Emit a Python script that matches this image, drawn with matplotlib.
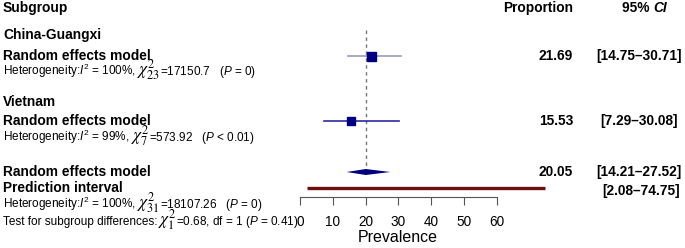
import matplotlib
matplotlib.use("Agg")
import matplotlib.pyplot as plt
from matplotlib.patches import Polygon

plt.rcParams['font.family'] = ['Liberation Sans', 'DejaVu Sans']
plt.rcParams['mathtext.fontset'] = 'custom'
plt.rcParams['mathtext.rm'] = 'Liberation Sans'
plt.rcParams['mathtext.it'] = 'Liberation Sans:italic'
plt.rcParams['mathtext.bf'] = 'Liberation Sans:bold'

# data
groups = ["China-Guangxi", "Vietnam"]
est = [21.69, 15.53]
lo = [14.75, 7.29]
hi = [30.71, 30.08]
sq_size = [9, 8]
overall = 20.05
overall_lo, overall_hi = 14.21, 27.52
pred_lo, pred_hi = 2.08, 74.75
ticks = [0, 10, 20, 30, 40, 50, 60]

# row positions (pixels from top)
y_group = [35, 102]
y_model = [56, 121]
y_het = [72, 138]
y_overall = 172
y_pred = 188

fig = plt.figure(figsize=(6.85, 2.48), dpi=100)
ax = fig.add_axes([0, 0, 1, 1])
px = 3.28  # pixels per unit
ax.set_xlim(-300 / px, (685 - 300) / px)
ax.set_ylim(248, 0)

for s in ['top', 'right', 'left']:
    ax.spines[s].set_visible(False)
ax.spines['bottom'].set_position(('data', 197))
ax.spines['bottom'].set_bounds(ticks[0], ticks[-1])
ax.spines['bottom'].set_color('#555555')
ax.set_yticks([])
ax.set_xticks(ticks)
ax.tick_params(axis='x', direction='out', length=6, color='#555555', pad=7, labelsize=9.8)
ax.set_xlabel("Prevalence", fontsize=11.5, va='center')
ax.xaxis.set_label_coords(398 / 685, 1 - 238 / 248)

# reference line
ax.plot([overall, overall], [30, 168], color='#777777', lw=1, ls=(0, (2.5, 2.5)))

# subgroups
line_cols = ['#9a9ac4', '#2b2ba0']
for i in range(len(groups)):
    ax.plot([lo[i], hi[i]], [y_model[i], y_model[i]], color=line_cols[i], lw=1.2)
    ax.plot(est[i], y_model[i], marker='s', ms=sq_size[i] * 0.72, color='#000080',
            mec='#000080')

# overall diamond
ax.add_patch(Polygon([[overall_lo, y_overall], [overall, y_overall - 3],
                      [overall_hi, y_overall], [overall, y_overall + 3]],
                     closed=True, color='#000080', lw=0))
ax.plot([pred_lo, pred_hi], [y_pred, y_pred], color='#6e0f0f', lw=2.4, solid_capstyle='butt')

# text columns
def tx(xp, yp, s, **kw):
    kw.setdefault('va', 'center')
    return ax.text(xp / 685, 1 - yp / 248, s, transform=ax.transAxes, **kw)

renderer = fig.canvas.get_renderer()

def pieces(xp, yp, parts):
    # parts: list of (text, fontsize), placed one after another
    x = xp
    for s, fs in parts:
        extra = {'math_fontfamily': 'stix'} if 'chi' in s else {}
        t = tx(x, yp, s, fontsize=fs, va='baseline', **extra)
        x += t.get_window_extent(renderer).width

B = 9.9
S = 8.5
M = 12.5
tx(3, 8, "Subgroup", fontsize=B, fontweight='bold')
tx(573, 8, "Proportion", fontsize=B, fontweight='bold', ha='right')
tx(653, 8, "95% ", fontsize=B, fontweight='bold', ha='right')
tx(653, 8, "CI", fontsize=B, fontweight='bold', fontstyle='italic', ha='left')

het = [[(r"Heterogeneity:$I^2$ = 100%, ", S), (r"$\chi^2_{23}$", M), (r"=17150.7   ($P$ = 0)", S)],
       [(r"Heterogeneity:$I^2$ = 99%, ", S), (r"$\chi^2_{7}$", M), (r"=573.92   ($P$ < 0.01)", S)]]
for i in range(len(groups)):
    tx(3, y_group[i], groups[i], fontsize=B, fontweight='bold')
    tx(3, y_model[i], "Random effects model", fontsize=B, fontweight='bold')
    pieces(3, y_het[i] + 3, het[i])
    tx(573, y_model[i], f"{est[i]:.2f}", fontsize=B, fontweight='bold', ha='right')
    tx(639, y_model[i], f"[{lo[i]:.2f}\u2013{hi[i]:.2f}]", fontsize=B, fontweight='bold', ha='center')

tx(3, y_overall, "Random effects model", fontsize=B, fontweight='bold')
tx(3, y_pred, "Prediction interval", fontsize=B, fontweight='bold')
pieces(3, 208, [(r"Heterogeneity:$I^2$ = 100%, ", S), (r"$\chi^2_{31}$", M),
                (r"=18107.26   ($P$ = 0)", S)])
pieces(3, 225, [("Test for subgroup differences:", S), (r"$\chi^2_{1}$", M),
                (r"=0.68, df = 1 ($P$ = 0.41)", S)])
tx(573, y_overall, f"{overall:.2f}", fontsize=B, fontweight='bold', ha='right')
tx(639, y_overall, f"[{overall_lo:.2f}\u2013{overall_hi:.2f}]", fontsize=B, fontweight='bold', ha='center')
tx(641, y_pred + 3, f"[{pred_lo:.2f}\u2013{pred_hi:.2f}]", fontsize=B, fontweight='bold', ha='center')

fig.savefig("out.png", dpi=100)
